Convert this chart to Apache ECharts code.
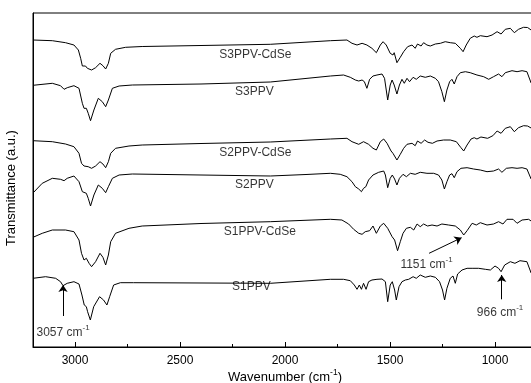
<!DOCTYPE html>
<html>
<head>
<meta charset="utf-8">
<title>FTIR spectra</title>
<script src="https://cdn.jsdelivr.net/npm/echarts@6/dist/echarts.min.js"></script>
<style>
  html, body { margin: 0; padding: 0; background: #fff; }
  #chart { width: 531px; height: 383px; }
</style>
</head>
<body>
<div id="chart"></div>
<script>
// x: wavenumber (cm-1), y: transmittance (a.u., traces stacked)
const majorTicks = [3000, 2500, 2000, 1500, 1000];
const minorTicks = [2750, 2250, 1750, 1250];

const s3ppvCdse = [
  [3200, 307], [3108, 306.3], [3045, 304.3], [3005, 302], [2984, 297], [2973, 288.7], [2965, 281],
  [2957, 279.7], [2950, 281], [2941, 278.7], [2921, 277], [2902, 279.3], [2881, 283.7], [2867, 281.3],
  [2854, 278], [2841, 283.7], [2830, 293.7], [2807, 297.7], [2759, 299.7], [2680, 300.5], [2400, 301.5],
  [2070, 302.7], [1784, 306.3], [1705, 307], [1681, 303.7], [1657, 302], [1633, 303.7], [1610, 302],
  [1586, 298.7], [1565, 294.3], [1546, 302], [1533, 305.3], [1518, 302], [1499, 293.7], [1486, 292],
  [1480, 294.3], [1467, 284.3], [1451, 289.7], [1435, 295.3], [1416, 300.3], [1395, 302], [1380, 298.7],
  [1369, 303], [1352, 301], [1340, 304.3], [1324, 302], [1308, 301], [1284, 303], [1260, 303.7],
  [1237, 305.3], [1213, 304.3], [1189, 303.7], [1165, 298.7], [1152, 295.3], [1137, 302], [1118, 308.7],
  [1099, 311], [1086, 309.7], [1070, 311.3], [1038, 310.3], [1014, 312], [990, 315.3], [971, 313],
  [951, 317.7], [927, 318.7], [908, 314.3], [888, 317.7], [864, 319.7], [845, 319.5], [828, 317]
];

const s3ppv = [
  [3200, 261.7], [3108, 263.7], [3069, 261.3], [3052, 257.7], [3037, 259.3], [3005, 261.3], [2981, 258.7],
  [2965, 243.7], [2957, 238.7], [2946, 238.7], [2937, 233.7], [2926, 226.3], [2910, 237], [2889, 248.7],
  [2870, 245.3], [2854, 240.3], [2841, 247], [2822, 258.7], [2790, 261], [2727, 262], [2400, 263],
  [2070, 265], [1784, 271], [1721, 272], [1689, 269.7], [1665, 267], [1649, 266], [1633, 267],
  [1622, 265.3], [1610, 258.7], [1597, 267.7], [1581, 271], [1562, 272], [1538, 273], [1526, 268.7],
  [1511, 247], [1499, 262], [1490, 267], [1480, 262], [1467, 253], [1455, 262], [1443, 267.7],
  [1432, 263.7], [1419, 268.7], [1407, 265.3], [1390, 269.7], [1375, 267.7], [1356, 271], [1332, 269.7],
  [1308, 271], [1284, 268.7], [1269, 265.3], [1253, 255.3], [1241, 245.3], [1229, 257], [1216, 265.3],
  [1205, 267.7], [1194, 263], [1181, 270.3], [1165, 274.3], [1141, 275.3], [1118, 274.3], [1086, 272],
  [1054, 270.3], [1030, 267.7], [1007, 270.3], [983, 273], [967, 270.3], [951, 274.3], [919, 276.3],
  [895, 275.3], [871, 276.3], [848, 275.3], [828, 264]
];

const s2ppvCdse = [
  [3200, 206.3], [3108, 205.3], [3045, 203], [3005, 200.3], [2981, 193.7], [2969, 183.7], [2957, 181],
  [2950, 182.7], [2937, 180.3], [2921, 178.7], [2902, 181], [2881, 185.3], [2867, 183], [2854, 179.3],
  [2841, 185.3], [2830, 193.7], [2807, 198.7], [2743, 201], [2680, 202], [2400, 203.5], [2070, 205],
  [1784, 208], [1705, 208.7], [1681, 205.3], [1649, 202.7], [1626, 205.3], [1602, 202.7], [1581, 198.7],
  [1565, 197], [1546, 205.3], [1530, 208], [1514, 203.7], [1495, 196], [1486, 193.7], [1478, 195.3],
  [1467, 187], [1451, 192.7], [1435, 198.7], [1419, 202.7], [1395, 203.7], [1380, 201.3], [1369, 206],
  [1352, 203.7], [1335, 207], [1319, 204.7], [1298, 203.7], [1276, 206], [1245, 207], [1213, 207],
  [1184, 205.3], [1162, 199.3], [1149, 196], [1133, 202], [1114, 208], [1099, 209.3], [1086, 208],
  [1067, 210], [1035, 208.7], [1010, 211.3], [990, 216], [971, 213.7], [951, 218.7], [927, 220.3],
  [908, 215.3], [888, 219.3], [864, 221.3], [845, 221], [828, 219]
];

const s2ppv = [
  [3200, 154], [3156, 163.7], [3108, 168.7], [3069, 167.7], [3052, 166.3], [3037, 168.7], [3005, 171],
  [2981, 165.3], [2965, 155.3], [2957, 153.7], [2946, 153.7], [2937, 148.7], [2926, 141], [2910, 152],
  [2889, 162], [2870, 158.7], [2854, 154.3], [2841, 160.3], [2822, 168.7], [2790, 172], [2727, 173],
  [2400, 172], [2070, 171], [1900, 172.5], [1784, 173.7], [1737, 172.7], [1705, 170.3], [1681, 165.3],
  [1665, 160.3], [1649, 158], [1636, 155.3], [1626, 158.7], [1615, 160.3], [1602, 167], [1581, 172],
  [1554, 174.7], [1530, 176], [1522, 172], [1511, 159.3], [1499, 168.7], [1489, 172], [1478, 168],
  [1467, 162], [1455, 168.7], [1438, 172.7], [1422, 170.3], [1403, 173.7], [1380, 172.7], [1356, 174.7],
  [1324, 173.7], [1292, 173.7], [1269, 172], [1253, 167], [1241, 158], [1229, 165.3], [1216, 172],
  [1205, 173.3], [1194, 169.3], [1181, 175.3], [1162, 178.7], [1133, 179.3], [1102, 178], [1070, 177],
  [1038, 175.3], [1007, 176], [983, 178], [967, 174.7], [946, 178.7], [919, 179.3], [895, 178.7],
  [871, 179.3], [848, 178], [828, 168]
];

const s1ppvCdse = [
  [3200, 109.7], [3156, 113.7], [3108, 117], [3045, 117], [3005, 115.3], [2981, 107], [2969, 93.7],
  [2957, 87], [2946, 88.7], [2933, 83.7], [2921, 80.3], [2902, 85.3], [2881, 93.7], [2867, 89.7],
  [2854, 82], [2841, 92], [2830, 105.3], [2807, 113.7], [2743, 118.7], [2680, 121], [2400, 123.5],
  [2070, 125.3], [1784, 127.7], [1729, 127], [1697, 123], [1673, 117.7], [1649, 113.7], [1633, 112.7],
  [1618, 115.3], [1597, 116.3], [1581, 121], [1565, 113.7], [1546, 121], [1530, 123.7], [1511, 118.7],
  [1490, 110.3], [1478, 107], [1464, 96.3], [1451, 105.3], [1438, 113.7], [1422, 118.7], [1403, 119.7],
  [1387, 117], [1371, 123], [1356, 120.3], [1340, 123], [1321, 121], [1300, 122], [1276, 121],
  [1253, 123], [1221, 122], [1189, 121], [1165, 117], [1149, 112], [1133, 116.3], [1109, 123.7],
  [1089, 122], [1070, 124.3], [1038, 122], [1007, 123], [983, 125.3], [962, 123], [943, 127.7],
  [914, 127.7], [895, 123.7], [871, 127], [840, 127.7], [828, 126]
];

const s1ppv = [
  [3200, 68.7], [3140, 70.3], [3092, 68.7], [3069, 65.3], [3057, 61.3], [3037, 63.7], [3005, 65.3],
  [2981, 63], [2967, 52], [2956, 42], [2946, 40.3], [2940, 35.3], [2927, 27], [2911, 40.3], [2883, 50.3],
  [2864, 47], [2848, 42], [2835, 50.3], [2816, 62], [2784, 64.3], [2721, 64.3], [2070, 63.7],
  [1784, 67.7], [1721, 67.7], [1689, 66.3], [1670, 62], [1657, 57.7], [1646, 62], [1636, 57.7],
  [1626, 63.7], [1614, 57.7], [1602, 65.3], [1586, 67], [1562, 67.7], [1538, 68], [1522, 65.3],
  [1511, 45.3], [1499, 62], [1489, 65.3], [1478, 57], [1470, 47], [1457, 60.3], [1443, 65.3], [1427, 67],
  [1411, 67.7], [1390, 70.3], [1375, 68.7], [1356, 72], [1332, 69.7], [1308, 71], [1284, 69.7],
  [1264, 65.3], [1250, 57], [1240, 47], [1229, 58.7], [1213, 68.7], [1200, 71], [1189, 63.7], [1178, 73],
  [1157, 77], [1133, 78.7], [1109, 78.7], [1078, 78.7], [1046, 77.7], [1022, 77], [1000, 81],
  [983, 78.7], [971, 75.3], [954, 82], [927, 85.3], [905, 83.7], [881, 86.3], [848, 85.3], [828, 74]
];

const sampleNames = ['S3PPV-CdSe', 'S3PPV', 'S2PPV-CdSe', 'S2PPV', 'S1PPV-CdSe', 'S1PPV'];
const spectra = [s3ppvCdse, s3ppv, s2ppvCdse, s2ppv, s1ppvCdse, s1ppv];
const markedBands = [3057, 1151, 966];

const font = "'Liberation Sans', Arial, sans-serif";
// superscript: pad the main text at the top so the small "-1" sits higher
const supRich = {
  n: { fontSize: 12, fontFamily: font, color: '#000', verticalAlign: 'bottom', padding: [3, 0, 0, 0] },
  s: { fontSize: 8, fontFamily: font, color: '#000', verticalAlign: 'top', lineHeight: 8 }
};
const nameRich = {
  n: { fontSize: 13, fontFamily: font, color: '#000', verticalAlign: 'bottom', padding: [3, 0, 0, 0] },
  s: { fontSize: 8.5, fontFamily: font, color: '#000', verticalAlign: 'top', lineHeight: 8 }
};
const cm = (v) => '{n|' + v + ' cm}{s|-1}';

// label anchor for each trace name, in data coordinates
const namePos = [[2141, 292], [2146, 255.3], [2141, 194.7], [2146, 162.7], [2120, 115.3], [2160, 60]];

const chart = echarts.init(document.getElementById('chart'), null, { renderer: 'canvas' });

const lineSeries = spectra.map((d, i) => ({
  name: sampleNames[i],
  type: 'line',
  data: d,
  showSymbol: false,
  symbol: 'none',
  lineStyle: { color: '#000', width: 1 },
  silent: true,
  z: 3
}));

const option = {
  animation: false,
  backgroundColor: '#fff',
  textStyle: { fontFamily: font, color: '#000' },
  grid: {
    left: 33, right: -6, top: 13, bottom: 36,
    outerBoundsMode: 'none',
    show: true, borderColor: '#000', borderWidth: 1
  },
  xAxis: [
    {
      type: 'value', inverse: true, min: 800, max: 3200,
      name: '{n|Wavenumber (cm}{s|-1}{n|)}',
      nameLocation: 'middle', nameGap: 21, nameMoveOverlap: false,
      nameTextStyle: { rich: nameRich },
      axisLine: { lineStyle: { color: '#000', width: 1 } },
      axisTick: { inside: true, length: 5, lineStyle: { color: '#000' }, customValues: majorTicks },
      axisLabel: { color: '#000', fontSize: 12, margin: 8, customValues: majorTicks, formatter: (v) => String(v) },
      splitLine: { show: false }
    },
    {
      type: 'value', inverse: true, min: 800, max: 3200, position: 'bottom',
      axisLine: { show: false },
      axisTick: { inside: true, length: 3, lineStyle: { color: '#000' }, customValues: minorTicks },
      axisLabel: { show: false },
      splitLine: { show: false }
    }
  ],
  yAxis: {
    type: 'value', min: 0, max: 334,
    name: 'Transmittance (a.u.)', nameLocation: 'middle', nameGap: 15,
    nameTextStyle: { fontSize: 13, color: '#000', padding: [0, 16, 0, 0] },
    axisLine: { show: true, lineStyle: { color: '#000', width: 1 } },
    axisTick: { show: false },
    axisLabel: { show: false },
    splitLine: { show: false }
  },
  series: [
    ...lineSeries,
    {
      name: 'labels',
      type: 'scatter',
      symbolSize: 0,
      silent: true,
      data: sampleNames.map((n, i) => ({ name: n, value: namePos[i] })),
      label: { show: true, position: 'inside', formatter: '{b}', color: '#000', fontSize: 12 },
      z: 5
    },
    {
      name: 'bands',
      type: 'scatter',
      symbolSize: 0,
      silent: true,
      data: [
        { value: [3057, 16], label: { formatter: cm(markedBands[0]) } },
        { value: [1326, 83.5], label: { formatter: cm(markedBands[1]) } },
        { value: [976, 36], label: { formatter: cm(markedBands[2]) } }
      ],
      label: { show: true, position: 'inside', rich: supRich },
      markLine: {
        silent: true,
        symbol: ['none', 'arrow'],
        symbolSize: 7,
        label: { show: false },
        lineStyle: { color: '#000', width: 1, type: 'solid' },
        emphasis: { disabled: true },
        data: [
          [{ coord: [3057, 31] }, { coord: [3057, 62] }],
          [{ coord: [1314, 93.7] }, { coord: [1159, 109.3] }],
          [{ coord: [968, 47.7] }, { coord: [968, 72] }]
        ]
      },
      z: 5
    }
  ]
};

chart.setOption(option);
</script>
</body>
</html>
